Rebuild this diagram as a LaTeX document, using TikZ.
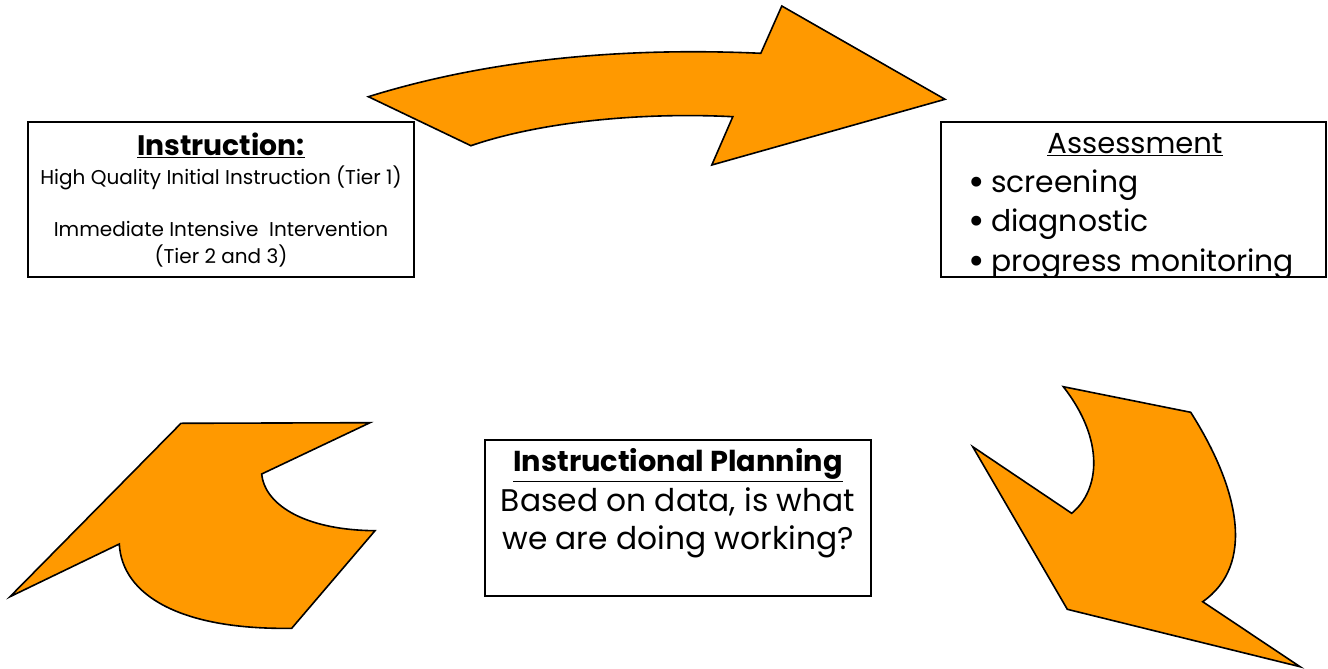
\documentclass[tikz,border=0pt]{standalone}
\usepackage{fontspec}
\newfontfamily\cg{Poppins}
\definecolor{arroworange}{RGB}{255,153,0}
\tikzset{
  box/.style={draw=black, line width=1.4pt, fill=white, inner sep=0pt},
  bigarrow/.style={draw=black, line width=1.6pt, fill=arroworange, line join=miter},
  txt/.style={inner sep=0pt, font=\cg},
}
\newcommand{\fs}[1]{\fontsize{#1}{#1}\selectfont}
\begin{document}
\begin{tikzpicture}[x=1pt,y=-1pt]
\useasboundingbox (0,0) rectangle (1328,669);

% top arrow
\path[bigarrow] (368.4,96.7) .. controls (470,65) and (600,46) .. (760.8,53.3)
  -- (781.8,6) -- (945,99.3) -- (711.8,165) -- (732.8,116.7)
  .. controls (640,112) and (540,122) .. (470.9,145.7) -- cycle;

% right arrow
\path[bigarrow] (1063.3,386.7) -- (1190.7,412.3)
  .. controls (1240,490) and (1255,565) .. (1202.7,601.7)
  -- (1300,666.7) -- (1067.3,609.3) -- (972.7,446.7) -- (1071.7,513.3)
  .. controls (1100,490) and (1105,440) .. (1063.3,386.7) -- cycle;

% left arrow
\path[bigarrow] (181,423.3) -- (370,422.7) -- (261.7,474)
  .. controls (264,502) and (300,530) .. (375,530.7)
  -- (291.7,628.3)
  .. controls (180,630) and (122,595) .. (119.3,544)
  -- (10,596.7) -- cycle;

% Instruction box
\node[box, minimum width=386pt, minimum height=155pt] (instr) at (221,199.5) {};
\node[txt, font=\cg\bfseries\fs{28.2}] (instrT) at (221,145) {\underline{Instruction:}};
\node[txt, font=\cg\fs{20}] (instr1) at (221,178) {High Quality Initial Instruction (Tier 1)};
\node[txt, font=\cg\fs{20}] (instr2) at (221,229) {Immediate Intensive\ \ Intervention};
\node[txt, font=\cg\fs{20}] (instr3) at (221,256) {(Tier 2 and 3)};

% Assessment box
\node[box, minimum width=385pt, minimum height=155pt] (assess) at (1133.5,199.5) {};
\begin{scope}
\clip (941,122) rectangle (1326,277);
\node[txt, font=\cg\fs{29}] (assessT) at (1135,145) {\underline{Assessment}};
\node[txt, font=\cg\fs{40}] (b1) at (977,186) {\textbullet};
\node[txt, font=\cg\fs{29.8}, anchor=west] (a1) at (991,185) {screening};
\node[txt, font=\cg\fs{40}] (b2) at (977,225) {\textbullet};
\node[txt, font=\cg\fs{29.8}, anchor=west] (a2) at (991,224) {diagnostic};
\node[txt, font=\cg\fs{40}] (b3) at (977,265) {\textbullet};
\node[txt, font=\cg\fs{29.8}, anchor=west] (a3) at (991,264) {progress monitoring};
\end{scope}
\draw[line width=1.4pt] (assess.south west) -- (assess.south east);

% Planning box
\node[box, minimum width=386pt, minimum height=156pt] (plan) at (678,518) {};
\node[txt, font=\cg\bfseries\fs{28.8}] (planT) at (678,465) {\underline{Instructional Planning}};
\node[txt, font=\cg\fs{31.3}] (plan1) at (678,502) {Based on data, is what};
\node[txt, font=\cg\fs{31.3}] (plan2) at (678,542) {we are doing working?};
\end{tikzpicture}
\end{document}
